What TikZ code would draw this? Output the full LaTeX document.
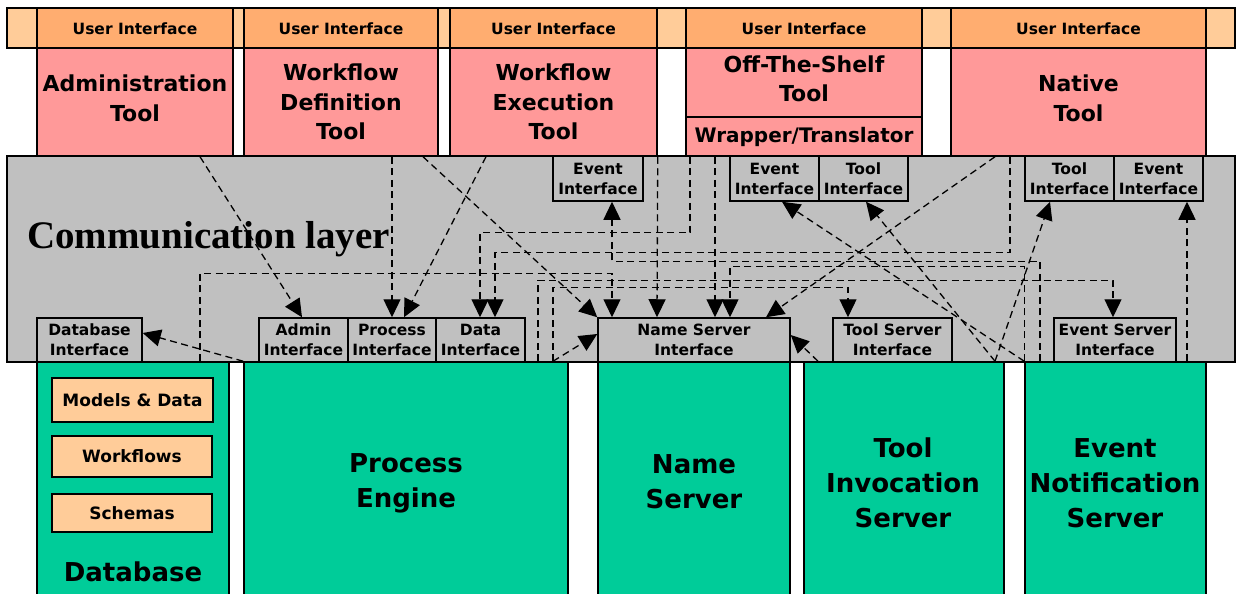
\documentclass[tikz,border=0pt]{standalone}
\usepackage{fontspec}
\setmainfont{DejaVu Sans}
\newfontfamily\layerfont{Liberation Serif}
\usetikzlibrary{arrows.meta}
\definecolor{stripfill}{HTML}{FFCC99}
\definecolor{uifill}{HTML}{FFAD70}
\definecolor{toolfill}{HTML}{FF9999}
\definecolor{layerfill}{HTML}{C0C0C0}
\definecolor{serverfill}{HTML}{00CC99}
\newcommand\setfs[2]{\fontsize{#1}{#2}\selectfont}
\begin{document}
\begin{tikzpicture}[x=1pt,y=-1pt,
  box/.style={draw, line width=1.5pt, inner sep=0pt, align=center},
  uibox/.style={box, fill=uifill, minimum height=40pt, text depth=0pt, text height=13.5pt, font=\bfseries\setfs{15.5}{19}},
  toolbox/.style={box, fill=toolfill, font=\bfseries\setfs{22}{29.5}},
  raised/.style={text depth=8pt},
  ifbox/.style={box, fill=layerfill, font=\bfseries\setfs{15.5}{20}},
  srvbox/.style={box, fill=serverfill, minimum height=238pt},
  srvlabel/.style={align=center, inner sep=0pt, font=\bfseries\setfs{26}{35}},
  dbitem/.style={box, fill=stripfill, font=\bfseries\setfs{17}{20}},
  link/.style={line width=1.3pt, dash pattern=on 7pt off 4.5pt,
    -{Triangle[length=18pt,width=17pt]}},
]
\useasboundingbox (0,0) rectangle (1239,594);
\clip (0,0) rectangle (1239,594);

% user interface band
\node[box, fill=stripfill, minimum width=1228pt, minimum height=40pt] (strip) at (621,28) {};
\node[uibox, minimum width=196pt] (ui1) at (135,28) {User Interface};
\node[uibox, minimum width=194pt] (ui2) at (341,28) {User Interface};
\node[uibox, minimum width=207pt] (ui3) at (553.5,28) {User Interface};
\node[uibox, minimum width=236pt] (ui4) at (804,28) {User Interface};
\node[uibox, minimum width=255pt] (ui5) at (1078.5,28) {User Interface};

% tools
\node[toolbox, raised, minimum width=196pt, minimum height=108pt] (admin) at (135,102) {Administration\\Tool};
\node[toolbox, minimum width=194pt, minimum height=108pt] (wdef) at (341,102) {Workflow\\Definition\\Tool};
\node[toolbox, minimum width=207pt, minimum height=108pt] (wexe) at (553.5,102) {Workflow\\Execution\\Tool};
\node[toolbox, raised, minimum width=236pt, minimum height=69pt] (ots) at (804,82.5) {Off-The-Shelf\\Tool};
\node[toolbox, minimum width=236pt, minimum height=39pt, font=\bfseries\setfs{20}{24}] (wrap) at (804,136.5) {Wrapper/Translator};
\node[toolbox, raised, minimum width=255pt, minimum height=108pt] (native) at (1078.5,102) {Native\\Tool};

% communication layer
\node[box, fill=layerfill, minimum width=1228pt, minimum height=206pt] (layer) at (621,259) {};
\node[anchor=base west, inner sep=0pt, font=\layerfont\bfseries\setfs{39}{39}] (layertitle) at (27,248) {Communication layer};

% interfaces on the top edge of the layer
\node[ifbox, minimum width=90pt, minimum height=45pt] (ev1) at (598,178.5) {Event\\Interface};
\node[ifbox, minimum width=89pt, minimum height=45pt] (ev2) at (774.5,178.5) {Event\\Interface};
\node[ifbox, minimum width=89pt, minimum height=45pt] (tl2) at (863.5,178.5) {Tool\\Interface};
\node[ifbox, minimum width=89pt, minimum height=45pt] (tl3) at (1069.5,178.5) {Tool\\Interface};
\node[ifbox, minimum width=89pt, minimum height=45pt] (ev3) at (1158.5,178.5) {Event\\Interface};

% interfaces on the bottom edge of the layer
\node[ifbox, minimum width=105pt, minimum height=44pt] (dbi) at (89.5,340) {Database\\Interface};
\node[ifbox, minimum width=89pt, minimum height=44pt] (adi) at (303.5,340) {Admin\\Interface};
\node[ifbox, minimum width=88pt, minimum height=44pt] (pri) at (392,340) {Process\\Interface};
\node[ifbox, minimum width=89pt, minimum height=44pt] (dti) at (480.5,340) {Data\\Interface};
\node[ifbox, minimum width=192pt, minimum height=44pt] (nsi) at (694,340) {Name Server\\Interface};
\node[ifbox, minimum width=119pt, minimum height=44pt] (tsi) at (892.5,340) {Tool Server\\Interface};
\node[ifbox, minimum width=122pt, minimum height=44pt] (esi) at (1115,340) {Event Server\\Interface};

% servers
\node[srvbox, minimum width=192pt] (db) at (133,481) {};
\node[srvbox, minimum width=324pt] (pe) at (406,481) {};
\node[srvbox, minimum width=192pt] (ns) at (694,481) {};
\node[srvbox, minimum width=200pt] (tis) at (904,481) {};
\node[srvbox, minimum width=181pt] (ens) at (1115.5,481) {};

\node[dbitem, minimum width=161pt, minimum height=44pt] (models) at (132.5,400) {Models \& Data};
\node[dbitem, minimum width=160pt, minimum height=41pt] (flows) at (132,456.5) {Workflows};
\node[dbitem, minimum width=160pt, minimum height=38pt] (schemas) at (132,513) {Schemas};

\node[srvlabel] (dblabel) at (133,572) {Database};
\node[srvlabel] (pelabel) at (406,483) {Process\\Engine};
\node[srvlabel] (nslabel) at (694,482) {Name\\Server};
\node[srvlabel] (tislabel) at (903,483) {Tool\\Invocation\\Server};
\node[srvlabel] (enslabel) at (1115,483) {Event\\Notification\\Server};

% connectors
\draw[link] (admin.south -| 200,0) -- (adi.north -| 302,0);
\draw[link] (wdef.south -| 392,0) -- (pri.north);
\draw[link] (wexe.south -| 486,0) -- (pri.north -| 404,0);
\draw[link] (wdef.south -| 423,0) -- (nsi.north west);
\draw[link] (pe.north west) -- (dbi.east |- 0,333);
\draw[link] (pe.north -| 553,0) -- (nsi.west |- 0,334);
\draw[link] (db.north -| 200,0) -- ++(0,-88) -| (nsi.north -| 612,0);
\draw[link] (wrap.south -| 690,0) -- ++(0,76) -| (dti.north -| 480,0);
\draw[link] (native.south -| 1010,0) -- ++(0,96) -| (dti.north -| 495,0);
\draw[link] (wexe.south east) -- (nsi.north -| 657,0);
\draw[link] (wrap.south -| 715,0) -- (nsi.north -| 715,0);
\draw[link] (ens.north west) -- ++(0,-95) -| (nsi.north -| 730,0);
\draw[link] (ens.north -| 1040,0) -- ++(0,-100) -| (ev1.south -| 612,0);
\draw[link] (pe.north -| 538,0) -- ++(0,-81) -| (esi.north -| 1113,0);
\draw[link] (pe.north -| 553,0) -- ++(0,-74) -| (tsi.north -| 848,0);
\draw[link] (native.south -| 995,0) -- (nsi.north -| 766,0);
\draw[link] (ens.north west) -- (ev2.south -| 782,0);
\draw[link] (tis.north -| 995,0) -- (tl2.south -| 866,0);
\draw[link] (tis.north -| 995,0) -- (tl3.south -| 1050,0);
\draw[link] (tis.north -| 818,0) -- (nsi.east |- 0,335);
\draw[link] (ens.north -| 1187,0) -- (ev3.south -| 1187,0);
\end{tikzpicture}
\end{document}
